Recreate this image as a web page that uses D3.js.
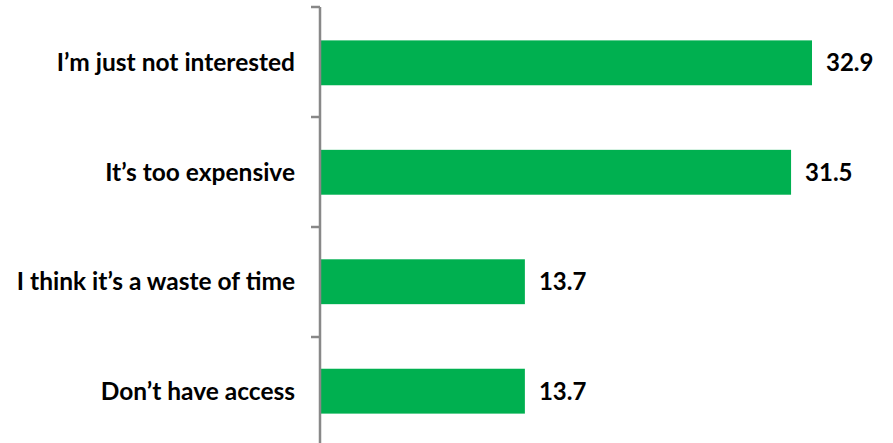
<!DOCTYPE html>
<html>
<head>
<meta charset="utf-8">
<script src="https://cdn.jsdelivr.net/npm/d3@7"></script>
<style>
  html, body { margin: 0; padding: 0; background: #fff; }
  svg { display: block; }
  .cat { font-family: Lato, "Open Sans", sans-serif; font-weight: 700; font-size: 24.5px; fill: #000; }
  .val { font-family: Lato, "Open Sans", sans-serif; font-weight: 700; font-size: 24px; fill: #000; }
</style>
</head>
<body>
<svg id="chart" width="893" height="443"></svg>
<script>
// Reasons given, top to bottom, with their shares
const categories = ["I\u2019m just not interested", "It\u2019s too expensive", "I think it\u2019s a waste of time", "Don\u2019t have access"];
const values = [32.9, 31.5, 13.7, 13.7];

const svg = d3.select("#chart");
const plotLeft = 320, plotTop = 7, bandStep = 110;

const x = d3.scaleLinear().domain([0, 32.9]).range([plotLeft, 812]);
const y = d3.scaleBand()
  .domain(categories)
  .range([plotTop, plotTop + bandStep * categories.length])
  .paddingInner(0.59)
  .paddingOuter(0.305);

// Bars
svg.selectAll("rect.bar")
  .data(values)
  .join("rect")
  .attr("class", "bar")
  .attr("x", x(0) + 1)
  .attr("y", (d, i) => y(categories[i]))
  .attr("width", d => x(d) - x(0) - 1)
  .attr("height", y.bandwidth())
  .attr("fill", "#00B050");

// Category axis: band boundaries as ticks
const boundaries = d3.range(categories.length + 1).map(i => plotTop + i * bandStep);
const axisG = svg.append("g");
axisG.append("line")
  .attr("x1", plotLeft).attr("x2", plotLeft)
  .attr("y1", plotTop).attr("y2", 443)
  .attr("stroke", "#888").attr("stroke-width", 2.5);
axisG.selectAll("line.tick")
  .data(boundaries)
  .join("line")
  .attr("class", "tick")
  .attr("x1", plotLeft - 9).attr("x2", plotLeft)
  .attr("y1", d => d).attr("y2", d => d)
  .attr("stroke", "#888").attr("stroke-width", 2.5);

// Category labels
svg.selectAll("text.cat")
  .data(categories)
  .join("text")
  .attr("class", "cat")
  .attr("x", 295)
  .attr("y", d => y(d) + y.bandwidth() / 2)
  .attr("dy", "0.35em")
  .attr("text-anchor", "end")
  .text(d => d);

// Value labels
svg.selectAll("text.val")
  .data(values)
  .join("text")
  .attr("class", "val")
  .attr("x", d => x(d) + 14)
  .attr("y", (d, i) => y(categories[i]) + y.bandwidth() / 2)
  .attr("dy", "0.35em")
  .text(d => d.toFixed(1));
</script>
</body>
</html>
